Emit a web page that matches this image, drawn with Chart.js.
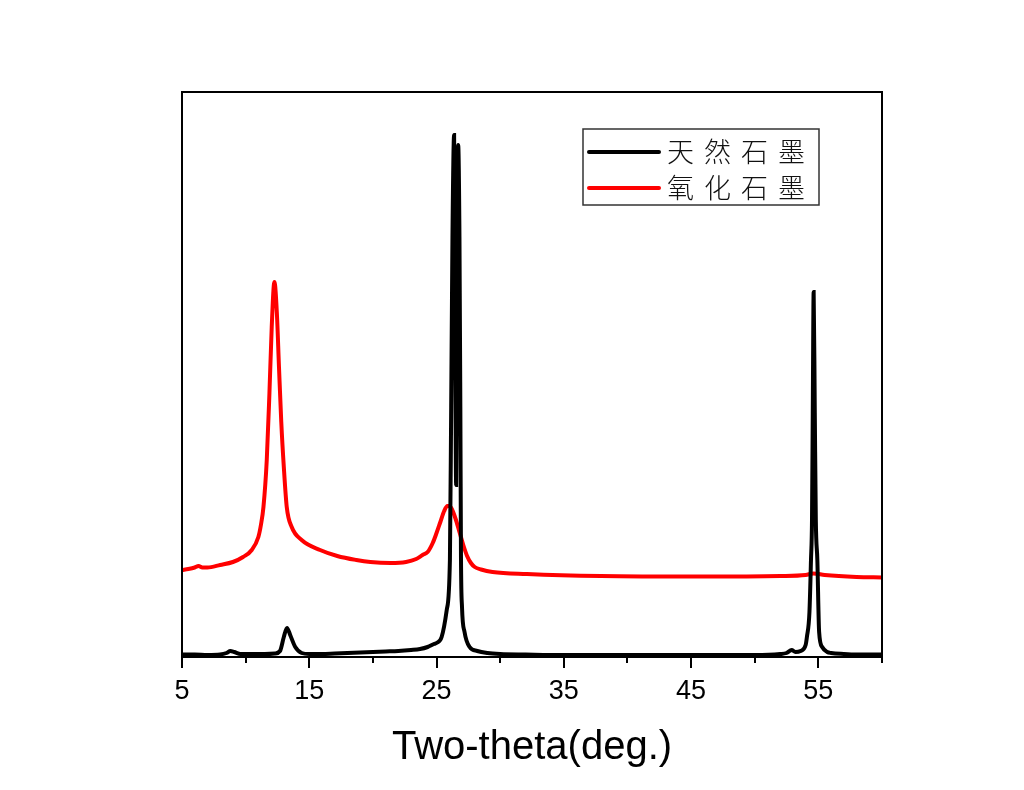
<!DOCTYPE html>
<html>
<head>
<meta charset="utf-8">
<script src="https://cdn.jsdelivr.net/npm/chart.js@4.4.1/dist/chart.umd.min.js"></script>
<style>
  html, body { margin: 0; padding: 0; background: #ffffff; }
  #wrap { width: 1024px; height: 790px; }
</style>
</head>
<body>
<div id="wrap"><canvas id="c" width="1024" height="790"></canvas></div>
<script>
// ---- Data ----
const seriesLabels = ['天然石墨', '氧化石墨'];
const seriesColors = ['#000000', '#ff0000'];

const naturalX = [5, 6, 7, 8, 8.5, 8.8, 9.1, 9.6, 10.5, 11.5, 12.3, 12.7, 13.0, 13.25, 13.5, 13.9, 14.4,
  15, 16, 17, 18, 19, 20, 21, 22, 23, 23.7, 24.3, 24.8, 25.0, 25.4, 25.8, 26.05, 26.15, 26.25, 26.38,
  26.46, 26.54, 26.62, 26.7, 26.8, 26.87, 26.92, 27.0, 27.2, 27.6, 28.2, 29, 30, 32, 35, 38, 41, 44,
  47, 50, 52, 52.5, 52.9, 53.2, 53.6, 54.0, 54.1, 54.3, 54.42, 54.5, 54.56, 54.63, 54.72, 54.8, 54.92,
  55.06, 55.3, 55.7, 56, 57, 58, 59, 60];
const naturalY = [2.5, 2.5, 2, 2.5, 4, 6, 5, 3, 3, 3, 3.5, 6, 20, 29, 22, 10, 4,
  3, 3, 3.5, 4, 4.5, 5, 5.5, 6, 7, 8, 10, 13, 14, 20, 47, 97, 250, 420, 522,
  330, 172, 360, 512, 420, 250, 100, 50, 25, 10, 6, 4, 3, 2.5, 2, 2, 2, 2,
  2, 2, 3, 4, 7, 5, 6, 12, 20, 45, 97, 137, 244, 365, 244, 137, 97,
  25, 10, 5, 4, 3, 2.5, 2.5, 2.5];

const oxideX = [5, 5.5, 6.0, 6.3, 6.6, 7.0, 8.0, 9.0, 9.8, 10.48, 11.0, 11.2, 11.4, 11.66, 11.87, 12.05,
  12.26, 12.45, 12.62, 12.8, 13.0, 13.23, 13.62, 14.4, 15.85, 17.2, 18.7, 19.8, 21.4, 22.6, 23.4,
  23.9, 24.3, 24.7, 25.0, 25.3, 25.6, 25.85, 26.0, 26.2, 26.5, 26.8, 27.1, 27.4, 27.7, 28.0, 28.5,
  29.4, 32.1, 37.9, 45.7, 52.0, 54.0, 54.6, 55.5, 58, 60];
const oxideY = [87, 88, 89.5, 91, 89.5, 89.5, 92, 95, 100, 107, 120, 132, 150, 197, 264, 330,
  375, 345, 290, 235, 190, 150, 130, 117, 107, 101, 97, 95, 94, 95, 98,
  102, 105, 114, 124, 135, 146, 151, 151, 148, 138, 125, 112, 101, 94, 90, 87.5,
  85, 83, 81, 80.5, 81, 82, 83.5, 82, 80, 79.5];

const majorTicks = [5, 15, 25, 35, 45, 55];
const minorTicks = [10, 20, 30, 40, 50, 60];
const xTitle = 'Two-theta(deg.)';

const toPoints = (xs, ys) => xs.map((x, i) => ({ x: x, y: ys[i] }));

// ---- Plugins ----
const whiteBg = {
  id: 'whiteBg',
  beforeDraw(chart) {
    const ctx = chart.ctx;
    ctx.save();
    ctx.fillStyle = '#ffffff';
    ctx.fillRect(0, 0, chart.width, chart.height);
    ctx.restore();
  }
};

const frameAndMinor = {
  id: 'frameAndMinor',
  afterDraw(chart) {
    const { ctx, chartArea: a } = chart;
    const xs = chart.scales.x;
    ctx.save();
    ctx.strokeStyle = '#000000';
    ctx.lineWidth = 2;
    ctx.strokeRect(a.left, a.top, a.right - a.left, a.bottom - a.top);
    minorTicks.forEach(v => {
      const px = Math.round(xs.getPixelForValue(v));
      ctx.beginPath();
      ctx.moveTo(px, a.bottom);
      ctx.lineTo(px, a.bottom + 6);
      ctx.stroke();
    });
    ctx.restore();
  }
};

const insideLegend = {
  id: 'insideLegend',
  afterDraw(chart) {
    const ctx = chart.ctx;
    const box = { x: 583, y: 129, w: 236, h: 76 };
    ctx.save();
    ctx.fillStyle = '#ffffff';
    ctx.fillRect(box.x, box.y, box.w, box.h);
    ctx.strokeStyle = '#333333';
    ctx.lineWidth = 1.5;
    ctx.strokeRect(box.x, box.y, box.w, box.h);
    const rows = [152, 188];
    chart.data.datasets.forEach((ds, i) => {
      const y = rows[i];
      ctx.strokeStyle = ds.borderColor;
      ctx.lineWidth = 4;
      ctx.lineCap = 'round';
      ctx.beginPath();
      ctx.moveTo(589, y);
      ctx.lineTo(659, y);
      ctx.stroke();
      ctx.fillStyle = '#111111';
      ctx.font = '300 27px "Noto Sans CJK SC"';
      ctx.textBaseline = 'middle';
      ctx.textAlign = 'left';
      Array.from(ds.label).forEach((ch, k) => {
        ctx.fillText(ch, 667 + k * 37, y);
      });
    });
    ctx.restore();
  }
};

// ---- Chart ----
new Chart(document.getElementById('c'), {
  type: 'scatter',
  data: {
    datasets: [
      {
        label: seriesLabels[0],
        data: toPoints(naturalX, naturalY),
        showLine: true,
        borderColor: seriesColors[0],
        backgroundColor: seriesColors[0],
        borderWidth: 4,
        pointRadius: 0,
        cubicInterpolationMode: 'monotone'
      },
      {
        label: seriesLabels[1],
        data: toPoints(oxideX, oxideY),
        showLine: true,
        borderColor: seriesColors[1],
        backgroundColor: seriesColors[1],
        borderWidth: 4,
        pointRadius: 0,
        cubicInterpolationMode: 'monotone'
      }
    ]
  },
  options: {
    responsive: false,
    animation: false,
    devicePixelRatio: 1,
    layout: { padding: { left: 182, right: 142, top: 92, bottom: 0 } },
    plugins: { legend: { display: false }, tooltip: { enabled: false } },
    scales: {
      x: {
        type: 'linear',
        min: 5,
        max: 60,
        afterBuildTicks(scale) { scale.ticks = majorTicks.map(v => ({ value: v })); },
        afterFit(scale) { scale.height = 133; },
        grid: {
          display: true,
          drawOnChartArea: false,
          drawTicks: true,
          tickLength: 11,
          color: '#000000',
          lineWidth: 2
        },
        border: { display: true, color: '#000000', width: 2 },
        ticks: {
          color: '#000000',
          padding: 7,
          maxRotation: 0,
          autoSkip: false,
          font: { family: '"Liberation Sans", Arial, sans-serif', size: 27 },
          callback: v => String(v)
        },
        title: {
          display: true,
          text: xTitle,
          color: '#000000',
          font: { family: '"Liberation Sans", Arial, sans-serif', size: 40 },
          padding: { top: 4, bottom: 18 }
        }
      },
      y: {
        display: false,
        min: 0,
        max: 565
      }
    }
  },
  plugins: [whiteBg, frameAndMinor, insideLegend]
});
</script>
</body>
</html>
